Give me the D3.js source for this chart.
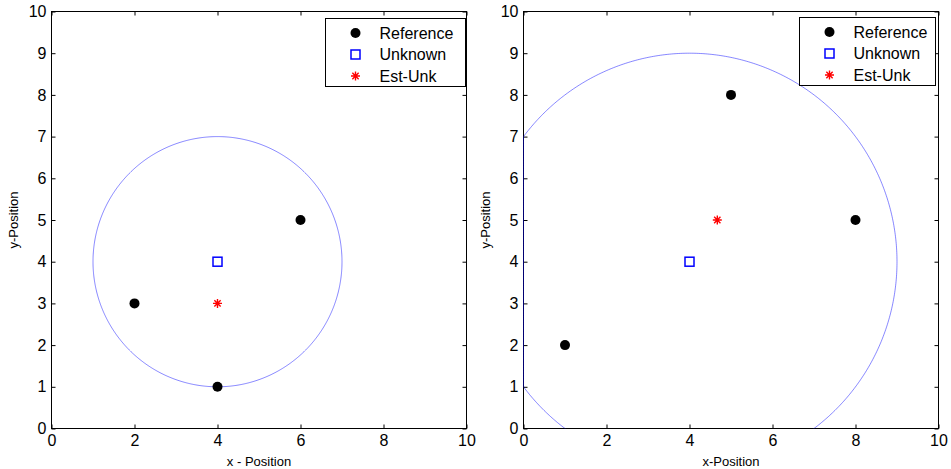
<!DOCTYPE html>
<html>
<head>
<meta charset="utf-8">
<script src="https://cdn.jsdelivr.net/npm/d3@7"></script>
<style>
  html, body { margin: 0; padding: 0; background: #fff; }
  svg { display: block; }
  text { font-family: Arial, "Liberation Sans", sans-serif; fill: #000; }
</style>
</head>
<body>
<svg id="chart" width="951" height="469"></svg>
<script>
// Axis ranges and tick values (shared by both panels)
const xTicks = [0, 2, 4, 6, 8, 10];
const yTicks = [0, 1, 2, 3, 4, 5, 6, 7, 8, 9, 10];
const legendLabels = ["Reference", "Unknown", "Est-Unk"];

// Left panel
const leftRefX = [2, 4, 6];
const leftRefY = [3, 1, 5];
const leftUnk = [4, 4];
const leftEst = [4, 3];
const leftCircle = [4, 4, 3]; // centre x, centre y, radius
const leftXLabel = "x - Position";

// Right panel
const rightRefX = [1, 5, 8];
const rightRefY = [2, 8, 5];
const rightUnk = [4, 4];
const rightEst = [4.67, 5];
const rightCircle = [4, 4, 5];
const rightXLabel = "x-Position";

const svg = d3.select("#chart");
const defs = svg.append("defs");

function drawPanel(cfg) {
  const { left, right, top, bottom } = cfg.box;
  const x = d3.scaleLinear().domain([0, 10]).range([left, right]);
  const y = d3.scaleLinear().domain([0, 10]).range([bottom, top]);
  const g = svg.append("g");

  defs.append("clipPath").attr("id", cfg.id)
    .append("rect")
    .attr("x", left - 1).attr("y", top - 1)
    .attr("width", right - left + 2).attr("height", bottom - top + 1);

  // axes (ticks point inward, box closed on all four sides)
  const axisStyle = sel => {
    sel.select(".domain").remove();
    sel.selectAll(".tick line").attr("stroke", "#000");
    sel.selectAll("text").style("font-size", "16px").style("font-family", "Arial, 'Liberation Sans', sans-serif");
  };
  g.append("g").attr("transform", `translate(0,${bottom})`)
    .call(d3.axisBottom(x).tickValues(xTicks).tickFormat(d3.format("d")).tickSize(-4).tickPadding(6))
    .call(axisStyle);
  g.append("g").attr("transform", `translate(0,${top})`)
    .call(d3.axisTop(x).tickValues(xTicks).tickFormat("").tickSize(-4))
    .call(axisStyle);
  g.append("g").attr("transform", `translate(${left},0)`)
    .call(d3.axisLeft(y).tickValues(yTicks).tickFormat(d3.format("d")).tickSize(-4).tickPadding(5))
    .call(axisStyle);
  g.append("g").attr("transform", `translate(${right},0)`)
    .call(d3.axisRight(y).tickValues(yTicks).tickFormat("").tickSize(-4))
    .call(axisStyle);
  g.append("rect")
    .attr("x", left).attr("y", top)
    .attr("width", right - left).attr("height", bottom - top)
    .attr("fill", "none").attr("stroke", "#000").attr("stroke-width", 1);

  // range circle: x held inside the limits, y clipped by the axes box
  const [cx, cy, r] = cfg.circle;
  const pts = d3.range(0, 721).map(i => {
    const a = (i / 720) * 2 * Math.PI;
    const px = Math.max(0, Math.min(10, cx + r * Math.cos(a)));
    const py = cy + r * Math.sin(a);
    return [x(px), y(py)];
  });
  g.append("path")
    .attr("clip-path", `url(#${cfg.id})`)
    .attr("d", d3.line()(pts))
    .attr("fill", "none")
    .attr("stroke", "#0000ff")
    .attr("stroke-opacity", 0.47)
    .attr("stroke-width", 1);

  // axis titles
  g.append("text")
    .attr("x", (left + right) / 2).attr("y", 466)
    .attr("text-anchor", "middle").style("font-size", "13px")
    .text(cfg.xLabel);
  g.append("text")
    .attr("transform", `translate(${left - 34},${(top + bottom) / 2}) rotate(-90)`)
    .attr("text-anchor", "middle").style("font-size", "13px")
    .text("y-Position");

  // markers
  const refDot = (sel, px, py) => sel.append("circle")
    .attr("cx", px).attr("cy", py).attr("r", 5).attr("fill", "#000");
  const unkSquare = (sel, px, py) => sel.append("rect")
    .attr("x", px - 4.5).attr("y", py - 4.5).attr("width", 9).attr("height", 9)
    .attr("fill", "none").attr("stroke", "#0000ff").attr("stroke-width", 1.5);
  const star = (sel, px, py) => {
    const s = 4.5;
    const k = s * 0.7;
    const d = `M${px - s},${py}L${px + s},${py}M${px},${py - s}L${px},${py + s}` +
      `M${px - k},${py - k}L${px + k},${py + k}` +
      `M${px - k},${py + k}L${px + k},${py - k}`;
    sel.append("path").attr("d", d).attr("stroke", "#ff0000").attr("stroke-width", 1.4).attr("fill", "none");
  };

  cfg.refX.forEach((vx, i) => refDot(g, x(vx), y(cfg.refY[i])));
  unkSquare(g, x(cfg.unk[0]), y(cfg.unk[1]));
  star(g, x(cfg.est[0]), y(cfg.est[1]));

  // legend
  const lg = cfg.legend;
  g.append("rect")
    .attr("x", lg.x).attr("y", lg.y).attr("width", lg.w).attr("height", lg.h)
    .attr("fill", "#fff").attr("stroke", "#000").attr("stroke-width", 1);
  const rowY = [lg.y + 14.5, lg.y + 36, lg.y + 57.5];
  const mx = lg.x + 30;
  refDot(g, mx, rowY[0]);
  unkSquare(g, mx, rowY[1]);
  star(g, mx, rowY[2]);
  legendLabels.forEach((t, i) => {
    g.append("text")
      .attr("x", lg.x + 54).attr("y", rowY[i]).attr("dy", "0.36em")
      .style("font-size", "16px").text(t);
  });
}

drawPanel({
  id: "clip-left",
  box: { left: 51.5, right: 466.5, top: 11.5, bottom: 428.5 },
  refX: leftRefX, refY: leftRefY, unk: leftUnk, est: leftEst,
  circle: leftCircle, xLabel: leftXLabel,
  legend: { x: 325.5, y: 18.5, w: 140, h: 68 }
});
drawPanel({
  id: "clip-right",
  box: { left: 523.5, right: 938.5, top: 11.5, bottom: 428.5 },
  refX: rightRefX, refY: rightRefY, unk: rightUnk, est: rightEst,
  circle: rightCircle, xLabel: rightXLabel,
  legend: { x: 799.5, y: 17.5, w: 136, h: 68 }
});
</script>
</body>
</html>
